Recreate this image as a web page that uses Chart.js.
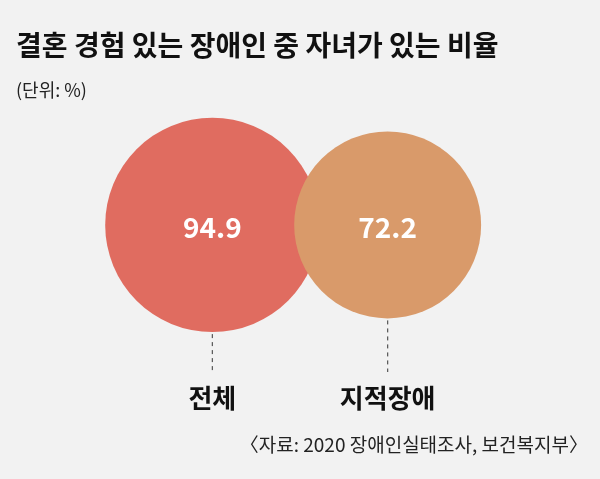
<!DOCTYPE html><html><head><meta charset="utf-8">
<script src="https://cdn.jsdelivr.net/npm/chart.js@4"></script>
<style>html,body{margin:0;padding:0;background:#f2f2f2}#w{width:600px;height:479px}</style></head><body>
<div id="w"><canvas id="c"></canvas></div>
<script>
const categories=["전체","지적장애"];
const values=[94.9,72.2];
const colors=["#e06c60","#d99a6a"];
const title="결혼 경험 있는 장애인 중 자녀가 있는 비율";
const unit="(단위: %)";
const source="〈자료: 2020 장애인실태조사, 보건복지부〉";
const F='"Noto Sans CJK KR","Noto Sans",sans-serif';
const deco={id:'deco',afterDatasetsDraw(ch){const c=ch.ctx;const m=ch.getDatasetMeta(0);c.save();
c.fillStyle='#111';c.textAlign='left';c.textBaseline='middle';
c.font='bold 28px '+F;c.fillText(title,16,45);
c.font='18px '+F;c.fillStyle='#222';c.fillText(unit,16,90);
m.data.forEach((p,i)=>{const r=p.options.radius;
c.fillStyle='#fff';c.textAlign='center';c.font='bold 28px '+F;c.fillText(values[i].toFixed(1),p.x,p.y+2);
c.strokeStyle='#555';c.lineWidth=1.2;c.setLineDash([4,4]);c.beginPath();c.moveTo(p.x,p.y+r+2);c.lineTo(p.x,372);c.stroke();c.setLineDash([]);
c.fillStyle='#111';c.font='bold 26px '+F;c.fillText(categories[i],p.x,398);});
c.textAlign='right';c.font='19px '+F;c.fillStyle='#222';c.fillText(source,588,445);c.restore();}};
new Chart(document.getElementById('c'),{type:'bubble',
data:{datasets:[{data:values.map((v,i)=>({x:i,y:0.555,r:11*Math.sqrt(v)})),backgroundColor:colors,borderWidth:0,hoverRadius:0,clip:false}]},
options:{responsive:true,maintainAspectRatio:false,animation:false,layout:{padding:0},
plugins:{legend:{display:false},tooltip:{enabled:false}},
scales:{x:{type:'linear',display:false,bounds:'data',min:-0.6,max:1.6,grace:0},y:{display:false,bounds:'data',min:0,max:1}}},
plugins:[deco]});
</script></body></html>
